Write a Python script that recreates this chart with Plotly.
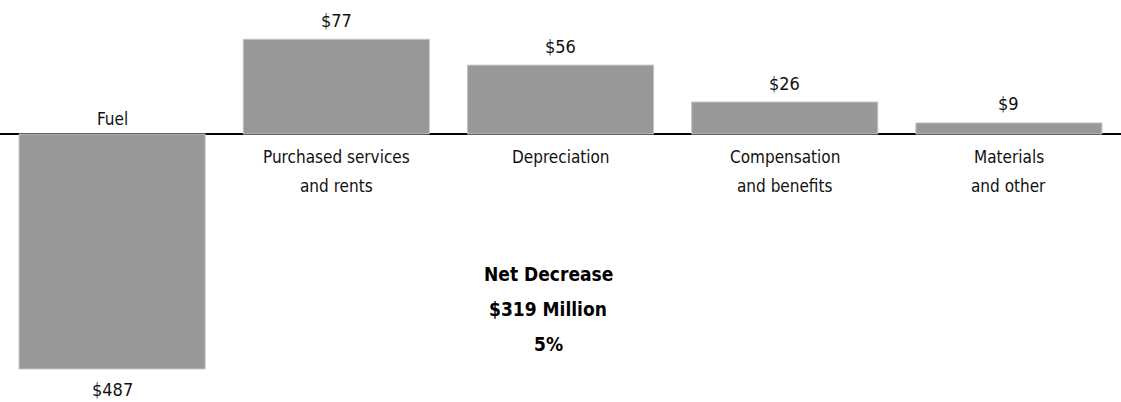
import plotly.graph_objects as go

# Year-over-year change in operating expenses ($ millions)
categories = [
    "Fuel",
    "Purchased services<br>and rents",
    "Depreciation",
    "Compensation<br>and benefits",
    "Materials<br>and other",
]
changes = [-487, 77, 56, 26, 9]
value_labels = ["$487", "$77", "$56", "$26", "$9"]
summary_lines = ["Net Decrease", "$319 Million", "5%"]

W, H = 1121, 402
FONT = "DejaVu Sans Condensed, Liberation Sans Narrow, sans-serif"
BAR = "#989898"

# Baseline position and pixel scales for the decrease / increase axes
base_px = 134
dec_px_per_unit = 0.4825
inc_px_per_unit = 1.23

dec_x = [c for c, v in zip(categories, changes) if v < 0]
dec_y = [v for v in changes if v < 0]
inc_x = [c for c, v in zip(categories, changes) if v >= 0]
inc_y = [v for v in changes if v >= 0]

fig = go.Figure()
fig.add_trace(go.Bar(
    x=dec_x, y=dec_y, yaxis="y", width=0.83,
    marker=dict(color=BAR, line=dict(color="#c4c4c4", width=1)),
    hoverinfo="skip",
))
fig.add_trace(go.Bar(
    x=inc_x, y=inc_y, yaxis="y2", width=0.83,
    marker=dict(color=BAR, line=dict(color="#c4c4c4", width=1)),
    hoverinfo="skip",
))

annotations = []
for cat, val, lab in zip(categories, changes, value_labels):
    yref = "y" if val < 0 else "y2"
    # value label beyond the end of the bar
    annotations.append(dict(
        x=cat, y=val, xref="x", yref=yref, text=lab, showarrow=False,
        yanchor="middle", yshift=-21 if val < 0 else 19,
        font=dict(family=FONT, size=18, color="#111111"),
    ))
    # category label on the opposite side of the baseline
    lines = cat.split("<br>")
    for k, line in enumerate(lines):
        if val < 0:
            shift = 15 + 29 * (len(lines) - 1 - k)
        else:
            shift = -(23 + 29 * k)
        annotations.append(dict(
            x=cat, y=0, xref="x", yref=yref, text=line, showarrow=False,
            yanchor="middle", yshift=shift,
            font=dict(family=FONT, size=17, color="#111111"),
        ))

for k, line in enumerate(summary_lines):
    annotations.append(dict(
        x=548 / W, y=1 - (274 + 35 * k) / H, xref="paper", yref="paper",
        text=f"<b>{line}</b>", showarrow=False, yanchor="middle",
        font=dict(family=FONT, size=19, color="#000000"),
    ))

below = H - base_px
fig.update_layout(
    width=W, height=H,
    margin=dict(l=0, r=0, t=0, b=0),
    paper_bgcolor="white", plot_bgcolor="white",
    showlegend=False, barmode="overlay",
    xaxis=dict(type="category", categoryorder="array", categoryarray=categories,
               range=[-0.5, len(categories) - 0.5], visible=False),
    yaxis=dict(range=[-below / dec_px_per_unit, base_px / dec_px_per_unit],
               showgrid=False, showticklabels=False, ticks="",
               zeroline=True, zerolinecolor="#000000", zerolinewidth=1.5),
    yaxis2=dict(range=[-below / inc_px_per_unit, base_px / inc_px_per_unit],
                overlaying="y", visible=False, zeroline=False, showgrid=False),
    annotations=annotations,
)

fig.write_html("out.html")
